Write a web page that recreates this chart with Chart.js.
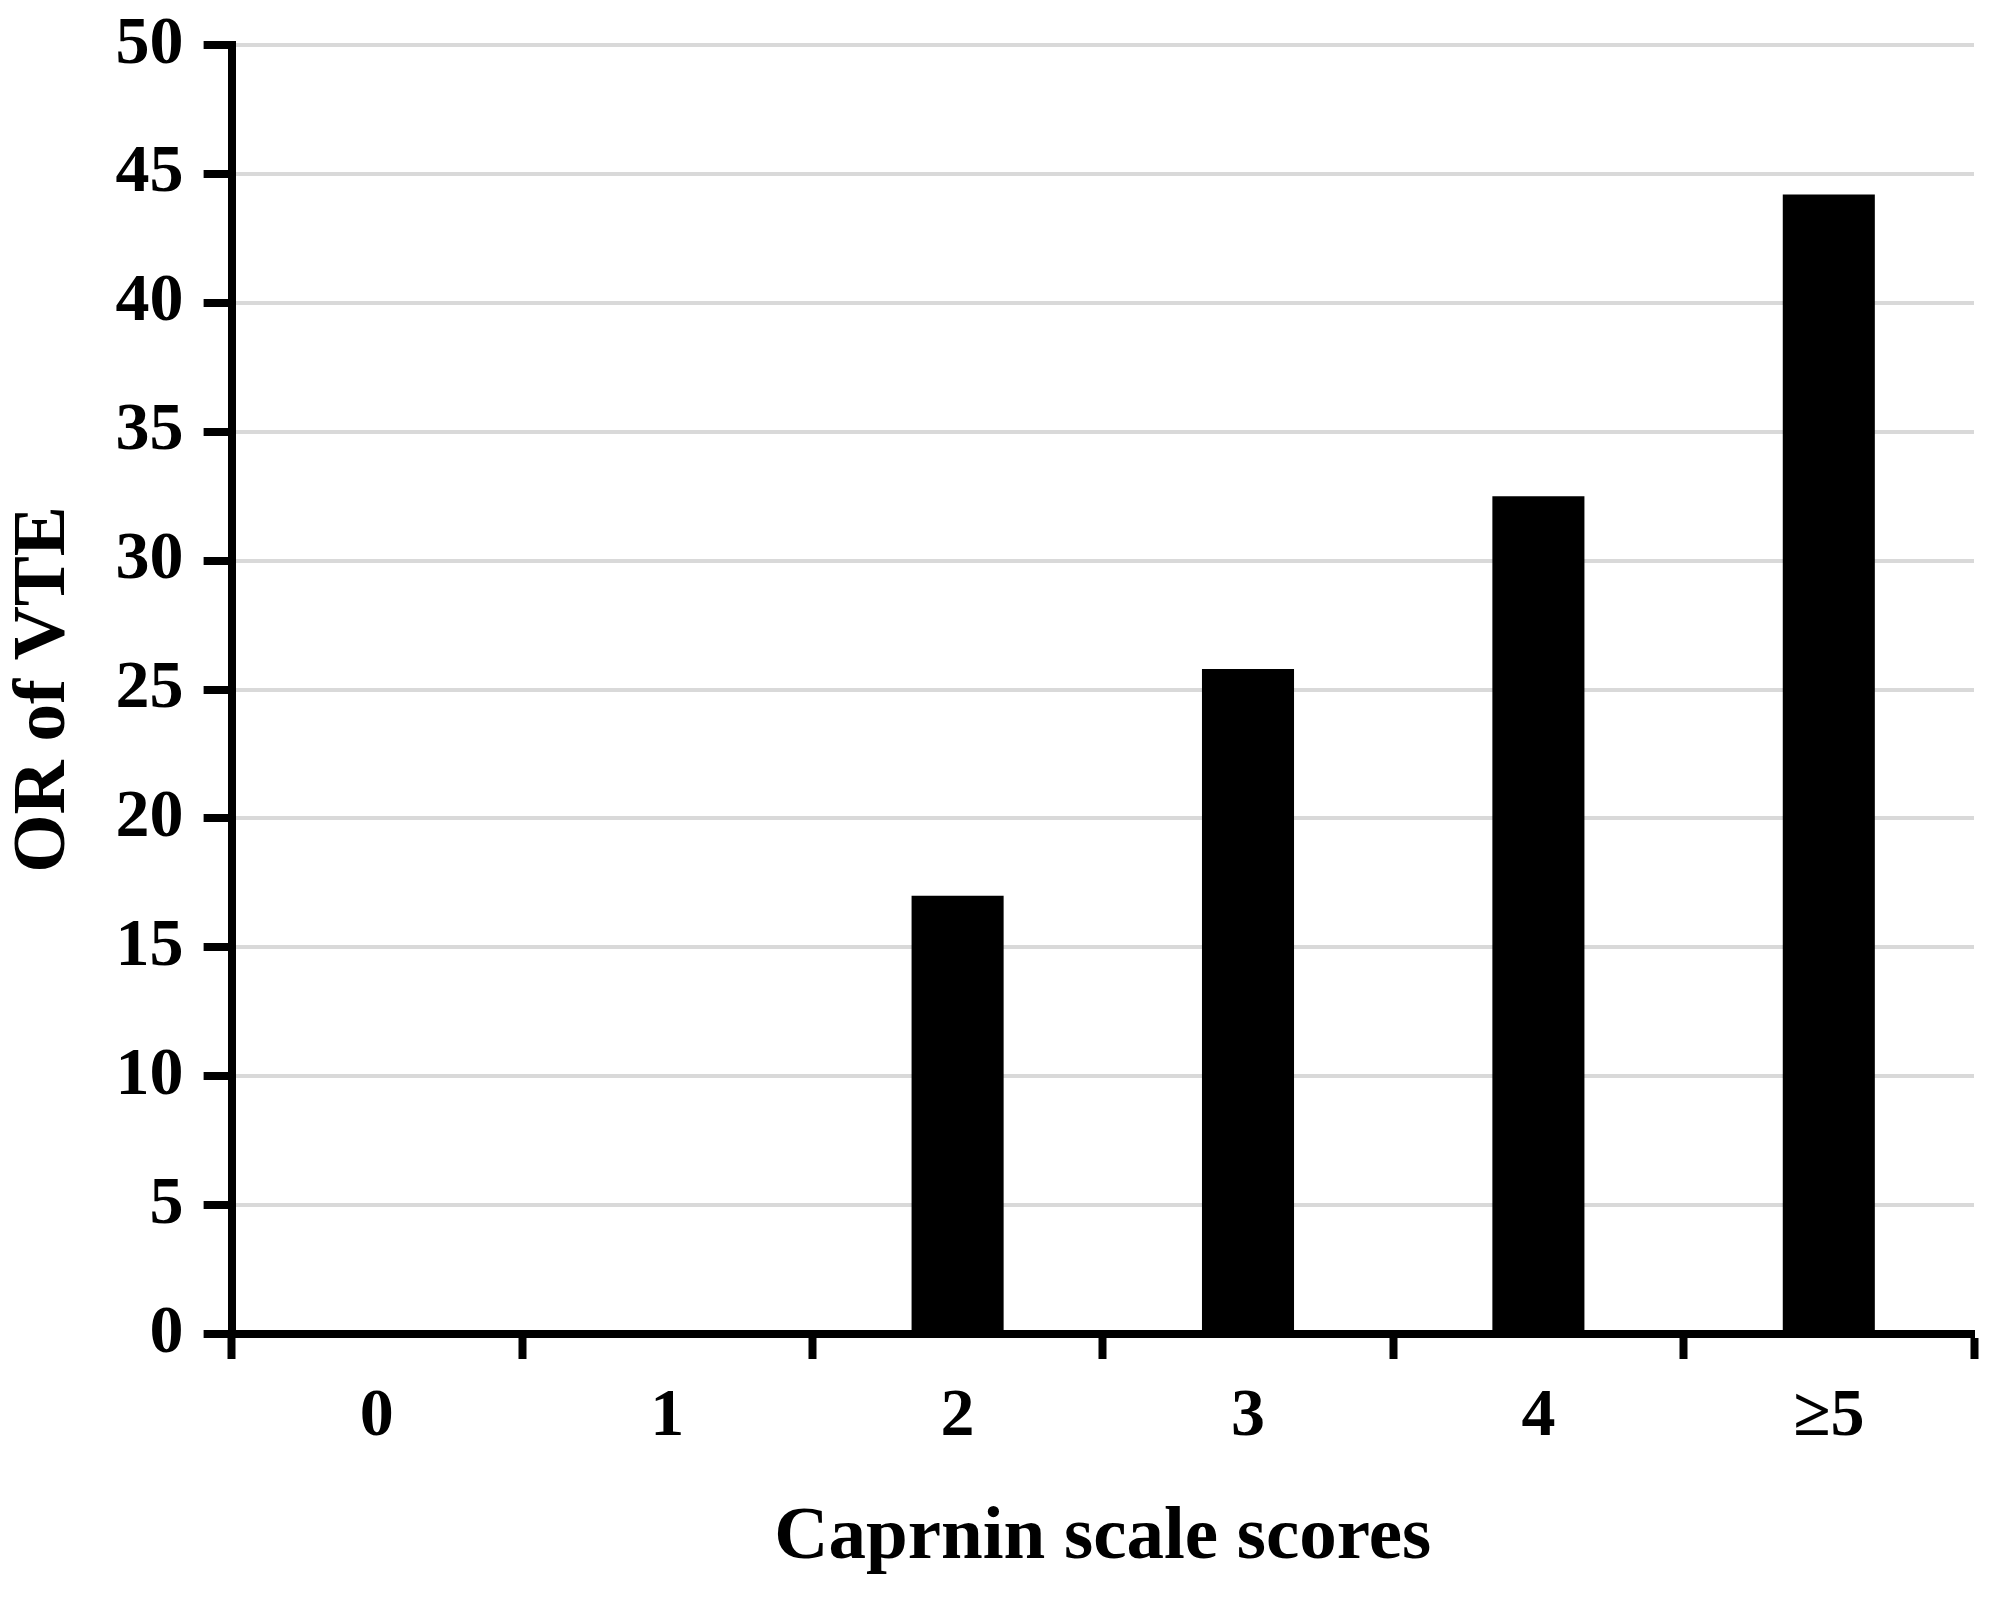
<!DOCTYPE html>
<html>
<head>
<meta charset="utf-8">
<script src="https://cdn.jsdelivr.net/npm/chart.js@4"></script>
<style>
  html, body { margin: 0; padding: 0; background: #fff; }
  #orchart_canvas_id { display: block; }
</style>
</head>
<body>
<canvas id="orchart_canvas_id" width="1995" height="1598"></canvas>
<script>
// data
var scores = ['0', '1', '2', '3', '4', '\u22655'];
var orValues = [0, 0, 17.0, 25.8, 32.5, 44.2];
var yTicks = [0, 5, 10, 15, 20, 25, 30, 35, 40, 45, 50];

var serif = 'Liberation Serif';

var chartdata = {
  labels: scores,
  datasets: [
    {
      label: 'OR of VTE',
      backgroundColor: '#000',
      borderWidth: 0,
      categoryPercentage: 1,
      barPercentage: 0.317,
      data: orValues
    }
  ]
};

var ctx = document.getElementById('orchart_canvas_id').getContext('2d');
var barGraph = new Chart(ctx, {
  type: 'bar',
  data: chartdata,
  options: {
    responsive: false,
    animation: false,
    layout: { padding: { left: 0, top: 45, right: 21, bottom: 14 } },
    plugins: { legend: { display: false }, tooltip: { enabled: false } },
    scales: {
      x: {
        grid: {
          offset: true,
          drawOnChartArea: false,
          drawTicks: true,
          tickLength: 25,
          tickColor: '#000',
          tickWidth: 8
        },
        border: { color: '#000', width: 8 },
        ticks: {
          color: '#000',
          padding: 18,
          font: { family: serif, size: 68, weight: 'bold' }
        },
        title: {
          display: true,
          text: 'Caprnin scale scores',
          color: '#000',
          padding: 0,
          font: { family: serif, size: 75, weight: 'bold' }
        },
        afterFit: function(scale) { scale.height = 1598 - 14 - 1334; }
      },
      y: {
        min: 0,
        max: 50,
        afterBuildTicks: function(scale) {
          scale.ticks = yTicks.map(function(v) { return { value: v }; });
        },
        grid: {
          color: function(c) { return c.tick && c.tick.value === 0 ? 'rgba(0,0,0,0)' : '#d9d9d9'; },
          lineWidth: 4,
          tickLength: 28,
          tickColor: '#000',
          tickWidth: 8
        },
        border: { color: '#000', width: 8 },
        ticks: {
          color: '#000',
          padding: 20,
          font: { family: serif, size: 68, weight: 'bold' }
        },
        title: {
          display: true,
          text: 'OR of VTE',
          color: '#000',
          padding: 0,
          font: { family: serif, size: 75, weight: 'bold' }
        },
        afterFit: function(scale) {
          scale.width = 231.6;
          scale.paddingTop = 0;
          scale.paddingBottom = 0;
        }
      }
    }
  }
});
</script>
</body>
</html>
